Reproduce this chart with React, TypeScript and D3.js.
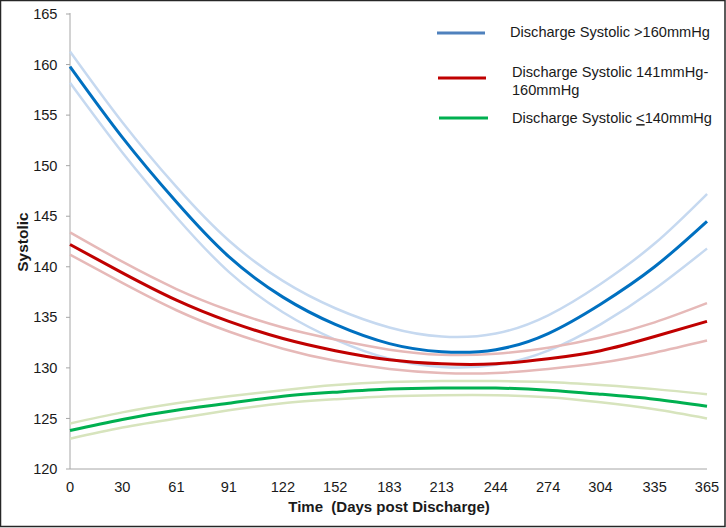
import React from "react";
import * as d3 from "d3";

const days = [0, 30, 61, 91, 122, 152, 183, 213, 244, 274, 304, 335, 365];
const yTicks = [120, 125, 130, 135, 140, 145, 150, 155, 160, 165];

const blueMain = [159.8, 152.8, 146.4, 141.0, 137.0, 134.3, 132.4, 131.6, 131.8, 133.4, 136.3, 140.0, 144.5];
const blueUpper = [161.3, 154.3, 147.9, 142.6, 138.6, 135.9, 134.0, 133.1, 133.4, 135.2, 138.3, 142.3, 147.2];
const blueLower = [158.2, 151.3, 144.9, 139.5, 135.5, 132.8, 130.9, 130.1, 130.3, 131.7, 134.3, 137.8, 141.8];

const redMain = [142.2, 139.4, 136.7, 134.6, 132.9, 131.7, 130.8, 130.4, 130.4, 130.9, 131.7, 133.1, 134.6];
const redUpper = [143.4, 140.5, 137.8, 135.7, 134.0, 132.8, 131.8, 131.3, 131.4, 132.0, 133.0, 134.5, 136.4];
const redLower = [141.2, 138.4, 135.7, 133.6, 131.9, 130.7, 129.9, 129.5, 129.5, 129.9, 130.5, 131.5, 132.7];

const greenMain = [123.8, 124.9, 125.8, 126.5, 127.2, 127.6, 127.9, 128.0, 128.0, 127.8, 127.4, 126.9, 126.2];
const greenUpper = [124.5, 125.6, 126.5, 127.2, 127.8, 128.3, 128.6, 128.7, 128.7, 128.6, 128.3, 127.9, 127.4];
const greenLower = [123.0, 124.1, 125.0, 125.8, 126.5, 126.9, 127.2, 127.3, 127.3, 127.1, 126.6, 125.9, 125.0];

export default function App() {
  const W = 726, H = 528;
  const x0 = 70, x1 = 707, yTop = 14, yBot = 469;
  const x = d3.scaleLinear().domain([0, 365]).range([x0, x1]);
  const y = d3.scaleLinear().domain([120, 165]).range([yBot, yTop]);
  const line = d3
    .line<number>()
    .x((_, i) => x(days[i]))
    .y((v) => y(v))
    .curve(d3.curveNatural);

  const series = [
    { data: blueUpper, color: "#c6d9f0", w: 2.5 },
    { data: blueLower, color: "#c6d9f0", w: 2.5 },
    { data: redUpper, color: "#e6b9b8", w: 2.5 },
    { data: redLower, color: "#e6b9b8", w: 2.5 },
    { data: greenUpper, color: "#d7e4bd", w: 2.5 },
    { data: greenLower, color: "#d7e4bd", w: 2.5 },
    { data: blueMain, color: "#0070c0", w: 3 },
    { data: redMain, color: "#c00000", w: 3 },
    { data: greenMain, color: "#00b050", w: 3 },
  ];

  const font = "Arial, 'Liberation Sans', sans-serif";
  const fs = 14.6;
  const txt = "#1a1a1a";

  return (
    <svg
      width={W}
      height={H}
      style={{ position: "absolute", left: 0, top: 0, background: "#fff" }}
      fontFamily={font}
    >
      <rect x={0} y={0} width={W} height={H} fill="#fff" />
      {/* y axis */}
      <line x1={x0} x2={x0} y1={yTop - 1} y2={yBot} stroke="#a6a6a6" strokeWidth={1} />
      {yTicks.map((t) => (
        <g key={t}>
          <line x1={x0 - 4} x2={x0} y1={y(t)} y2={y(t)} stroke="#a6a6a6" />
          <text x={57.5} y={y(t)} dy="0.35em" textAnchor="end" fontSize={fs} fill={txt}>
            {t}
          </text>
        </g>
      ))}
      {/* x axis */}
      <line x1={x0} x2={x1} y1={yBot} y2={yBot} stroke="#a6a6a6" />
      {days.map((d) => (
        <text key={d} x={x(d)} y={487} dy="0.35em" textAnchor="middle" fontSize={fs} fill={txt}>
          {d}
        </text>
      ))}
      <text
        x={389}
        y={507}
        dy="0.35em"
        textAnchor="middle"
        fontSize={15}
        fontWeight="bold"
        fill={txt}
        style={{ whiteSpace: "pre" }}
      >
        {"Time  (Days post Discharge)"}
      </text>
      <text
        transform={`translate(23,242) rotate(-90)`}
        dy="0.35em"
        textAnchor="middle"
        fontSize={15.5}
        fontWeight="bold"
        fill={txt}
      >
        Systolic
      </text>
      {series.map((s, i) => (
        <path key={i} d={line(s.data) || ""} fill="none" stroke={s.color} strokeWidth={s.w} />
      ))}
      {/* legend */}
      <line x1={437} x2={485} y1={33} y2={33} stroke="#4f81bd" strokeWidth={3} />
      <text x={510} y={32} dy="0.35em" fontSize={fs} fill={txt}>
        Discharge Systolic &gt;160mmHg
      </text>
      <line x1={438} x2={486} y1={78} y2={78} stroke="#c00000" strokeWidth={3} />
      <text x={512} y={72} dy="0.35em" fontSize={fs} fill={txt}>
        Discharge Systolic 141mmHg-
      </text>
      <text x={512} y={90} dy="0.35em" fontSize={fs} fill={txt}>
        160mmHg
      </text>
      <line x1={439} x2={488} y1={118} y2={118} stroke="#00b050" strokeWidth={3} />
      <text x={512} y={118} dy="0.35em" fontSize={fs} fill={txt}>
        {"Discharge Systolic "}
        <tspan textDecoration="underline">&lt;</tspan>
        {"140mmHg"}
      </text>
      <rect x={0.5} y={0.5} width={724.5} height={526} fill="none" stroke="#262626" strokeWidth={1.5} />
    </svg>
  );
}
